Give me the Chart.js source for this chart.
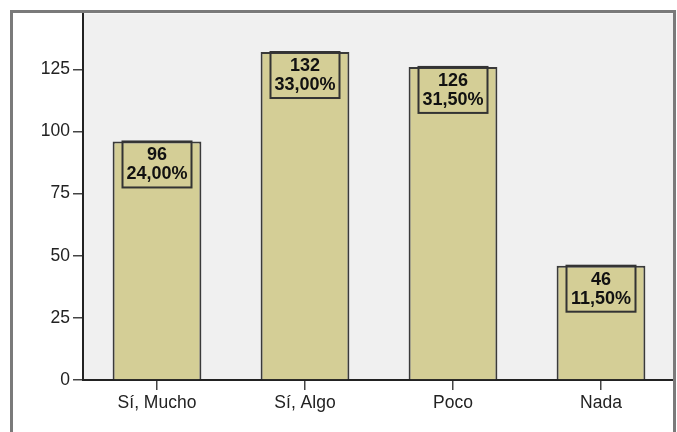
<!DOCTYPE html>
<html>
<head>
<meta charset="utf-8">
<script src="https://cdn.jsdelivr.net/npm/chart.js@4"></script>
<style>
  html, body { margin: 0; padding: 0; background: #fff; }
  #wrap { width: 677px; height: 432px; }
</style>
</head>
<body>
<div id="wrap"><canvas id="chart" width="677" height="432"></canvas></div>
<script>
const categories = ['Sí, Mucho', 'Sí, Algo', 'Poco', 'Nada']
const counts = [96, 132, 126, 46]
const percents = ['24,00%', '33,00%', '31,50%', '11,50%']
const yTicks = [0, 25, 50, 75, 100, 125]

const FONT = 'Liberation Sans, Arial, sans-serif'

// fondo gris del area de trazado y marco exterior
const frame = {
  id: 'frame',
  beforeDraw(chart) {
    const { ctx, chartArea } = chart
    ctx.save()
    ctx.fillStyle = '#F0F0F0'
    ctx.fillRect(chartArea.left, chartArea.top, chartArea.right - chartArea.left, chartArea.bottom - chartArea.top)
    ctx.restore()
  },
  afterDraw(chart) {
    const { ctx } = chart
    ctx.save()
    ctx.strokeStyle = '#7a7a7a'
    ctx.lineWidth = 3
    ctx.strokeRect(11.5, 11.5, 663, 440)
    ctx.restore()
  },
}

// cajas con valor y porcentaje arriba de cada barra
const boxLabels = {
  id: 'boxLabels',
  afterDatasetsDraw(chart) {
    const { ctx } = chart
    const meta = chart.getDatasetMeta(0)
    ctx.save()
    meta.data.forEach((bar, i) => {
      const w = 69, h = 46
      ctx.strokeStyle = '#333'
      ctx.lineWidth = 2
      ctx.strokeRect(bar.x - w / 2, bar.y, w, h)
      ctx.fillStyle = '#111'
      ctx.font = 'bold 18px ' + FONT
      ctx.textAlign = 'center'
      ctx.textBaseline = 'middle'
      ctx.fillText(String(counts[i]), bar.x, bar.y + 14)
      ctx.fillText(percents[i], bar.x, bar.y + 33)
    })
    ctx.restore()
  },
}

new Chart(document.getElementById('chart'), {
  type: 'bar',
  data: {
    labels: categories,
    datasets: [
      {
        data: counts,
        backgroundColor: '#D4CE96',
        borderColor: '#3a3a3a',
        borderWidth: 2,
        categoryPercentage: 1,
        barPercentage: 0.6,
      },
    ],
  },
  options: {
    responsive: false,
    animation: false,
    layout: { padding: { top: 13, right: 2, left: 0, bottom: 0 } },
    plugins: { legend: { display: false }, tooltip: { enabled: false } },
    scales: {
      x: {
        afterFit(scale) { scale.height = 52 },
        grid: { offset: false, drawOnChartArea: false, tickLength: 10, color: '#444', lineWidth: 1.5 },
        border: { display: true, color: '#222', width: 2 },
        ticks: { font: { family: FONT, size: 17.5 }, color: '#222', padding: 3 },
      },
      y: {
        min: 0,
        max: 147.5,
        afterFit(scale) { scale.width = 83 },
        afterBuildTicks(scale) { scale.ticks = yTicks.map(v => ({ value: v })) },
        grid: { drawOnChartArea: false, tickLength: 10, color: '#444', lineWidth: 1.5 },
        border: { display: true, color: '#222', width: 2 },
        ticks: { font: { family: FONT, size: 17.5 }, color: '#222', padding: 3 },
      },
    },
  },
  plugins: [frame, boxLabels],
})
</script>
</body>
</html>
